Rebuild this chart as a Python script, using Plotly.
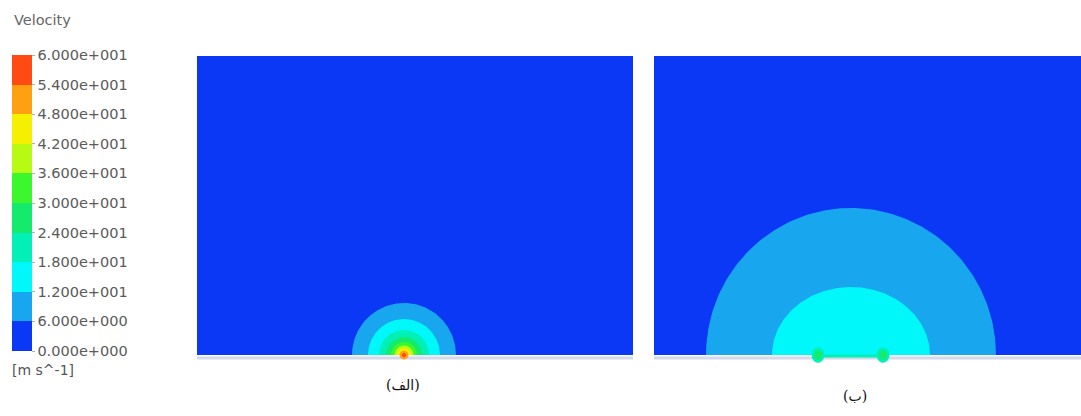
import numpy as np
import plotly.graph_objects as go

W, H = 1081, 416

# Velocity contour levels (m/s) and the colour of each band [levels[i], levels[i+1])
levels = [0, 6, 12, 18, 24, 30, 36, 42, 48, 54, 60]
band_colors = ["#0a38f4", "#18a6ee", "#00f8fa", "#00f0b8", "#14ea6c",
               "#3cf62e", "#b8fa14", "#f4f000", "#ffa012", "#ff4a14"]
tick_text = ["0.000e+000", "6.000e+000", "1.200e+001", "1.800e+001",
             "2.400e+001", "3.000e+001", "3.600e+001", "4.200e+001",
             "4.800e+001", "5.400e+001", "6.000e+001"]

# Case (a): single source; iso-velocity radii (m) for levels 6 .. 54
a_width, a_height = 4.36, 2.99
a_source_x = 2.07
a_radii = [0.52, 0.36, 0.25, 0.18, 0.13, 0.095, 0.07, 0.045, 0.022]

# Case (b): twin sources; outer iso-velocity semi-ellipses for levels 6 and 12
b_width, b_height = 4.27, 2.99
b_center_x = 1.97
b_radii_x = [1.45, 0.79]
b_radii_y = [1.47, 0.68]
b_sources_x = [1.64, 2.29]
b_spot_radii = [0.065, 0.04]   # levels 18 and 24 around each source


def arc(cx, rx, ry, full=False, n=160):
    t = np.linspace(0, 2 * np.pi if full else np.pi, n)
    return cx + rx * np.cos(t), ry * np.sin(t)


def patch(x, y, color, xa, ya):
    return go.Scatter(x=x, y=y, mode="lines", fill="toself", fillcolor=color,
                      line=dict(width=0, color=color), hoverinfo="skip",
                      showlegend=False, xaxis=xa, yaxis=ya)


fig = go.Figure()

ground = "#d3d8ea"

# ---- panel (a)
fig.add_trace(patch([0, a_width, a_width, 0, 0], [0, 0, a_height, a_height, 0],
                    band_colors[0], "x", "y"))
fig.add_trace(go.Scatter(x=[0, a_width], y=[-0.03, -0.03], mode="lines",
                         line=dict(color=ground, width=3), hoverinfo="skip",
                         showlegend=False, xaxis="x", yaxis="y"))
for i, r in enumerate(a_radii):
    full = levels[i + 1] >= 48
    x, y = arc(a_source_x, r, r, full=full)
    fig.add_trace(patch(x, y, band_colors[i + 1], "x", "y"))

# ---- panel (b)
fig.add_trace(patch([0, b_width, b_width, 0, 0], [0, 0, b_height, b_height, 0],
                    band_colors[0], "x2", "y2"))
fig.add_trace(go.Scatter(x=[0, b_width], y=[-0.03, -0.03], mode="lines",
                         line=dict(color=ground, width=3), hoverinfo="skip",
                         showlegend=False, xaxis="x2", yaxis="y2"))
for i, (rx, ry) in enumerate(zip(b_radii_x, b_radii_y)):
    x, y = arc(b_center_x, rx, ry)
    fig.add_trace(patch(x, y, band_colors[i + 1], "x2", "y2"))
fig.add_trace(go.Scatter(x=[b_sources_x[0], b_sources_x[-1]], y=[-0.01, -0.01],
                         mode="lines", line=dict(color=band_colors[3], width=3),
                         hoverinfo="skip", showlegend=False, xaxis="x2", yaxis="y2"))
for sx in b_sources_x:
    for j, r in enumerate(b_spot_radii):
        x, y = arc(sx, r, r * 1.2, full=True)
        fig.add_trace(patch(x, y, band_colors[3 + j], "x2", "y2"))

# ---- colour legend
scale = []
for i, c in enumerate(band_colors):
    scale += [[i / 10, c], [(i + 1) / 10, c]]
fig.add_trace(go.Scatter(
    x=[None], y=[None], mode="markers", hoverinfo="skip", showlegend=False,
    marker=dict(color=[0], cmin=0, cmax=60, colorscale=scale, showscale=True,
                colorbar=dict(thickness=20, thicknessmode="pixels",
                              len=296, lenmode="pixels",
                              x=12 / W, xanchor="left", xpad=0,
                              y=1 - 203 / H, yanchor="middle", ypad=0,
                              outlinewidth=0, tickmode="array",
                              tickvals=levels, ticktext=tick_text,
                              ticks="outside", ticklen=3, tickcolor="#b0b0b0",
                              tickfont=dict(family="DejaVu Sans", size=14.5,
                                            color="#5a5a5a"))),
    xaxis="x", yaxis="y"))

y_dom = [1 - 368 / H, 1 - 56 / H]
ax = dict(visible=False, fixedrange=True)
fig.update_layout(
    width=W, height=H, margin=dict(l=0, r=0, t=0, b=0),
    paper_bgcolor="white", plot_bgcolor="white",
    xaxis=dict(domain=[197 / W, 633 / W], range=[0, a_width], **ax),
    yaxis=dict(domain=y_dom, range=[-0.13, a_height], **ax),
    xaxis2=dict(domain=[654 / W, 1.0], range=[0, b_width], **ax),
    yaxis2=dict(domain=y_dom, range=[-0.13, b_height], **ax),
    annotations=[
        dict(text="Velocity", x=12 / W, y=1 - 20 / H, xref="paper", yref="paper",
             xanchor="left", yanchor="middle", showarrow=False,
             font=dict(family="DejaVu Sans", size=14.5, color="#666666")),
        dict(text="[m s^-1]", x=10 / W, y=1 - 370 / H, xref="paper", yref="paper",
             xanchor="left", yanchor="middle", showarrow=False,
             font=dict(family="DejaVu Sans", size=14, color="#555555")),
        dict(text="(الف)", x=403 / W, y=1 - 385 / H, xref="paper", yref="paper",
             xanchor="center", yanchor="middle", showarrow=False,
             font=dict(family="DejaVu Serif, DejaVu Sans", size=14, color="#111111")),
        dict(text="(ب)", x=855 / W, y=1 - 396 / H, xref="paper", yref="paper",
             xanchor="center", yanchor="middle", showarrow=False,
             font=dict(family="DejaVu Serif, DejaVu Sans", size=14, color="#111111")),
    ],
)

fig.write_html("out.html")
